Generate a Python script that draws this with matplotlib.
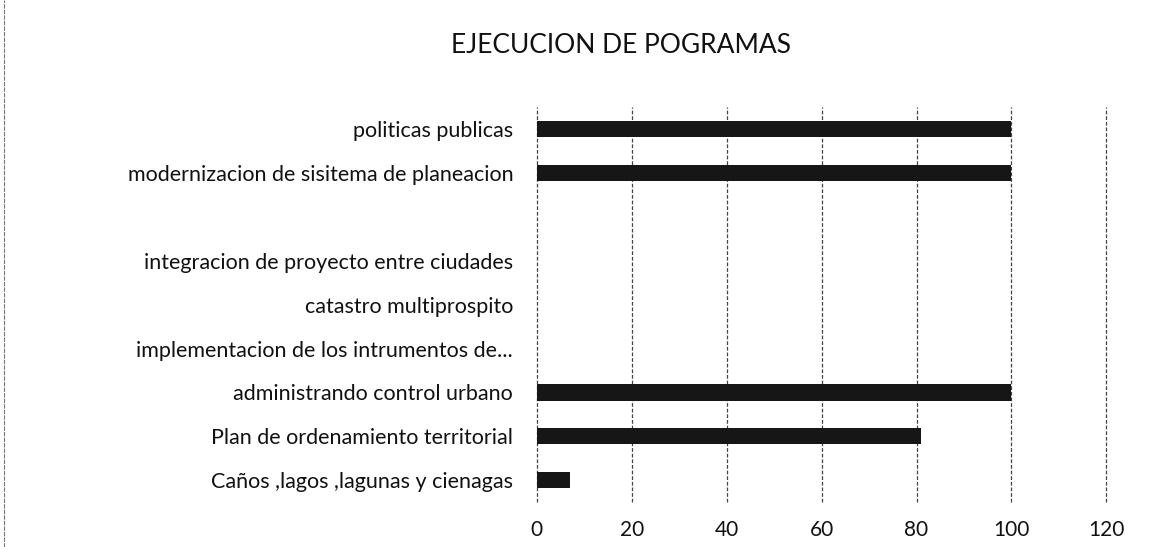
import matplotlib.pyplot as plt
from matplotlib.lines import Line2D

# data, listed top to bottom as in the chart
programas = [
    "politicas publicas",
    "modernizacion de sisitema de planeacion",
    "",
    "integracion de proyecto entre ciudades",
    "catastro multiprospito",
    "implementacion de los intrumentos de...",
    "administrando control urbano",
    "Plan de ordenamiento territorial",
    "Caños ,lagos ,lagunas y cienagas",
]
ejecucion = [100, 100, 0, 0, 0, 0, 100, 81, 7]
ticks_x = [0, 20, 40, 60, 80, 100, 120]

plt.rcParams['font.family'] = ['Lato', 'DejaVu Sans']

fig = plt.figure(figsize=(11.72, 5.47), dpi=100)
ax = fig.add_axes([0.458, 0.082, 0.486, 0.722])

ypos = list(range(len(programas)))[::-1]
ax.barh(ypos, ejecucion, height=0.37, color='#161616', zorder=3)

ax.set_xlim(0, 120)
ax.set_ylim(-0.5, len(programas) - 0.5)
ax.set_xticks(ticks_x)
ax.set_xticklabels([str(t) for t in ticks_x], fontsize=15, color='#111111')
ax.set_yticks(ypos)
ax.set_yticklabels(programas, fontsize=15.5, color='#111111')
ax.tick_params(axis='x', length=0, pad=13)
ax.tick_params(axis='y', length=0, pad=17)

# dashed vertical gridlines, including the ones at 0 and 120
for t in ticks_x:
    ax.axvline(t, color='#444444', linestyle=(0, (3, 1.5)), linewidth=0.9,
               zorder=1, clip_on=False)
for s in ax.spines.values():
    s.set_visible(False)

fig.text(0.53, 0.917, "EJECUCION DE POGRAMAS", ha='center', va='center',
         fontsize=19, color='#111111')

# scanned page border on the left
fig.add_artist(Line2D([0.003, 0.003], [0.0, 1.0], transform=fig.transFigure,
                      color='#777777', linewidth=0.8, linestyle=(0, (4, 1))))

fig.savefig('out.png', dpi=100, facecolor='white')
